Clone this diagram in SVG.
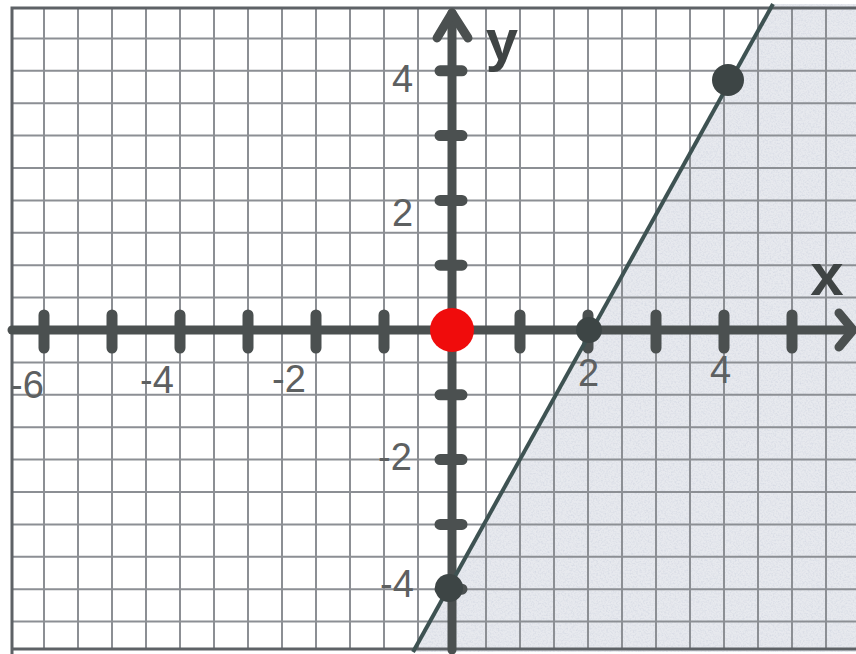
<svg xmlns="http://www.w3.org/2000/svg" width="856" height="654" viewBox="0 0 856 654">
<defs>
<style>
.grid{stroke:#8c8f94;stroke-width:2;fill:none}
.border{stroke:#5e6266;stroke-width:3;fill:none}
.axis{stroke:#4b5050;stroke-width:9;fill:none;stroke-linecap:round;stroke-linejoin:round}
.tick{stroke:#4b5050;stroke-width:11;stroke-linecap:round}
.graph{stroke:#3e5252;stroke-width:4;fill:none}
.pt{fill:#3d4545}
.num{font-family:"Liberation Sans",Arial,sans-serif;font-size:38px;fill:#5d6061}
.var{font-family:"Liberation Sans",Arial,sans-serif;font-weight:bold;fill:#3f4444}
</style>
<filter id="grain" x="0%" y="0%" width="100%" height="100%" color-interpolation-filters="sRGB">
<feTurbulence type="fractalNoise" baseFrequency="0.6" numOctaves="2" seed="7"/>
<feColorMatrix type="matrix" values="0 0 0 0 0.8  0 0 0 0 0.82  0 0 0 0 0.87  1.3 0 0 0 -0.55"/>
<feComposite in2="SourceGraphic" operator="in" result="speck"/>
<feMerge><feMergeNode in="SourceGraphic"/><feMergeNode in="speck"/></feMerge>
</filter>
</defs>
<rect width="856" height="654" fill="#ffffff"/>
<g id="shading">
<polygon points="413,652 773,4 856,4 856,652" fill="#e7e9ee" filter="url(#grain)"/>
</g>
<g id="grid">
<path class="grid" d="M44,8V649M78,8V649M112,8V649M146,8V649M180,8V649M214,8V649M248,8V649M282,8V649M316,8V649M350,8V649M384,8V649M418,8V649M486,8V649M520,8V649M554,8V649M588,8V649M622,8V649M656,8V649M690,8V649M724,8V649M758,8V649M792,8V649M826,8V649"/>
<path class="grid" d="M12,38.4H856M12,70.8H856M12,103.2H856M12,135.6H856M12,168H856M12,200.4H856M12,232.8H856M12,265.2H856M12,297.6H856M12,362.4H856M12,394.8H856M12,427.2H856M12,459.6H856M12,492H856M12,524.4H856M12,556.8H856M12,589.2H856M12,621.6H856"/>
<path class="border" d="M12,654V8H856M12,649H856"/>
</g>
<g id="axes">
<line class="axis" x1="12" y1="330" x2="851" y2="330"/>
<line class="axis" x1="452" y1="13" x2="452" y2="650"/>
<polyline class="axis" points="437,38 452,13 468,38"/>
<polyline class="axis" points="839,313 853,330 839,347"/>
<path class="tick" d="M44,315V348M112,315V348M180,315V348M248,315V348M316,315V348M384,315V348M520,315V348M588,315V348M656,315V348M724,315V348M792,315V348"/>
<path class="tick" d="M440,70.8H462M440,135.6H462M440,200.4H462M440,265.2H462M440,394.8H462M440,459.6H462M440,524.4H462M440,589.2H462"/>
</g>
<g id="connectors">
<line class="graph" x1="413" y1="652" x2="773" y2="4"/>
</g>
<g id="points">
<circle class="pt" cx="589" cy="330" r="13"/>
<circle class="pt" cx="728" cy="80" r="16"/>
<circle class="pt" cx="449" cy="588" r="14"/>
<circle id="origin" cx="452" cy="330" r="22" fill="#f00c0c"/>
</g>
<g id="labels">
<text class="var" x="502" y="60" font-size="58" text-anchor="middle">y</text>
<text class="var" x="827" y="295" font-size="60" text-anchor="middle">x</text>
<text class="num" x="392" y="92">4</text>
<text class="num" x="392" y="226">2</text>
<text class="num" x="378" y="470">-2</text>
<text class="num" x="380" y="597">-4</text>
<text class="num" x="10" y="398">-6</text>
<text class="num" x="140" y="393">-4</text>
<text class="num" x="272" y="392">-2</text>
<text class="num" x="578" y="386">2</text>
<text class="num" x="710" y="383">4</text>
</g>
</svg>
